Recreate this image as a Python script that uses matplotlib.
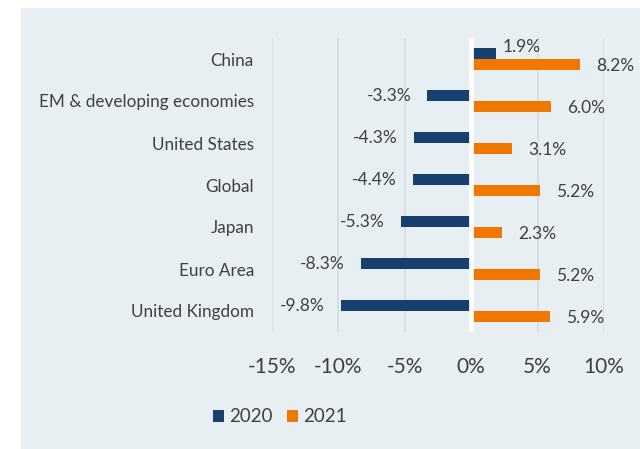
import matplotlib
matplotlib.use("Agg")
import matplotlib.pyplot as plt
from matplotlib.patches import Rectangle
import numpy as np

categories = ["China", "EM & developing economies", "United States", "Global",
              "Japan", "Euro Area", "United Kingdom"]
growth_2020 = [1.9, -3.3, -4.3, -4.4, -5.3, -8.3, -9.8]
growth_2021 = [8.2, 6.0, 3.1, 5.2, 2.3, 5.2, 5.9]
xticks = [-15, -10, -5, 0, 5, 10]
xtick_labels = ["-15%", "-10%", "-5%", "0%", "5%", "10%"]
series_names = ["2020", "2021"]

NAVY = "#173F6F"
ORANGE = "#F07800"
BG = "#E7EFF2"
TXT = "#404040"
FONT = "Lato"

plt.rcParams["font.family"] = [FONT, "DejaVu Sans"]

W, H = 640, 449
fig = plt.figure(figsize=(W / 100, H / 100), dpi=100)
fig.patch.set_facecolor("white")
fig.patches.append(Rectangle((21 / W, 0), 1 - 21 / W, 441 / H,
                             transform=fig.transFigure, facecolor=BG,
                             edgecolor="none", zorder=-10))

ax_left, ax_right = 272 / W, 604 / W
ax_top, ax_bottom = 1 - 38 / H, 1 - 332 / H
ax = fig.add_axes([ax_left, ax_bottom, ax_right - ax_left, ax_top - ax_bottom])
ax.set_facecolor("none")

n = len(categories)
y = np.arange(n)
bh = 0.262
b1 = ax.barh(y - bh / 2, growth_2020, height=bh, color=NAVY, zorder=2, label=series_names[0])
b2 = ax.barh(y + bh / 2, growth_2021, height=bh, color=ORANGE, zorder=2, label=series_names[1])

ax.set_xlim(-15, 10)
ax.set_ylim(n - 0.5, -0.5)
ax.set_yticks(y)
ax.set_yticklabels(categories, fontsize=12.3, color=TXT)
ax.set_xticks(xticks)
ax.set_xticklabels(xtick_labels, fontsize=15, color=TXT)
ax.tick_params(axis="both", length=0)
ax.tick_params(axis="y", pad=13)
ax.tick_params(axis="x", pad=18)
for s in ax.spines.values():
    s.set_visible(False)
for xt in xticks:
    if xt != 0:
        ax.axvline(xt, color="#D5DBDF", lw=1.2, zorder=1)
ax.axvline(0, color="white", lw=3.4, zorder=3)

LBL = 12.5
for i, v in enumerate(growth_2020):
    if v >= 0:
        ax.annotate(f"{v:.1f}%", (v, i - bh / 2), xytext=(6, 6), textcoords="offset pixels",
                    ha="left", va="center", fontsize=LBL, color=TXT)
    else:
        ax.annotate(f"{v:.1f}%", (v, i - bh / 2), xytext=(-16, -1), textcoords="offset pixels",
                    ha="right", va="center", fontsize=LBL, color=TXT)
for i, v in enumerate(growth_2021):
    ax.annotate(f"{v:.1f}%", (v, i + bh / 2), xytext=(16, -1), textcoords="offset pixels",
                ha="left", va="center", fontsize=LBL, color=TXT)

leg = fig.legend(handles=[b1, b2], loc="center", bbox_to_anchor=(0.437, 1 - 417 / H),
                 ncol=2, frameon=False, fontsize=13.5, handlelength=0.6, handleheight=0.6,
                 handletextpad=0.25, columnspacing=0.8, labelcolor=TXT)

fig.savefig("out.png", dpi=100, facecolor=fig.get_facecolor())
